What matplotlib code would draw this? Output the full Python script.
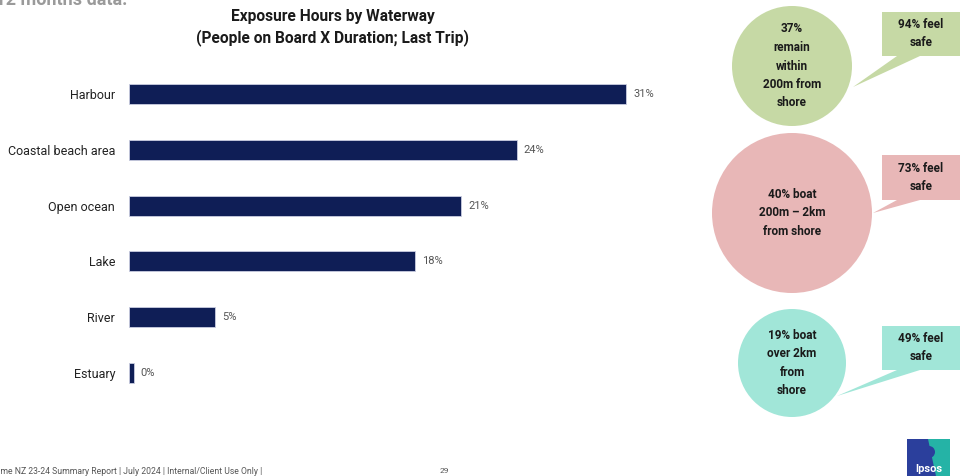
import matplotlib
matplotlib.use("Agg")
import matplotlib.pyplot as plt
from matplotlib.patches import Circle, Polygon, Rectangle

plt.rcParams['font.family'] = ['Roboto', 'DejaVu Sans']

# bar data (share of exposure hours, %)
WATERWAYS = ['Harbour', 'Coastal beach area', 'Open ocean', 'Lake', 'River', 'Estuary']
SHARE = [31.3, 24.4, 20.9, 18.0, 5.4, 0.3]

# distance-from-shore bubbles and "feel safe" callouts
ZONE_TEXT = ['37%\nremain\nwithin\n200m from\nshore',
             '40% boat\n200m \u2013 2km\nfrom shore',
             '19% boat\nover 2km\nfrom\nshore']
SAFE_TEXT = ['94% feel\nsafe', '73% feel\nsafe', '49% feel\nsafe']
ZONE_COLORS = ['#c6d9a5', '#e8b7b7', '#a1e6d8']

NAVY = '#0f1e56'

fig = plt.figure(figsize=(9.6, 4.76), dpi=100)
W, H = 960., 476.

# bar axes, placed in pixel terms
x0, x1 = 129, 685
y_top, y_bot = 66, 401
ax = fig.add_axes([x0 / W, 1 - y_bot / H, (x1 - x0) / W, (y_bot - y_top) / H])
ypos = list(range(len(WATERWAYS)))
ax.barh(ypos, SHARE, height=0.36, color=NAVY, edgecolor='#c9cde0', linewidth=0.6)
ax.set_xlim(0, 35)
ax.set_ylim(len(WATERWAYS) - 0.5, -0.5)
ax.set_yticks(ypos)
ax.set_yticklabels(WATERWAYS, fontsize=9, color='#222222')
ax.tick_params(axis='y', length=0, pad=10)
ax.set_xticks([])
for s in ax.spines.values():
    s.set_visible(False)
for y, v in zip(ypos, SHARE):
    ax.annotate('%d%%' % round(v), (v, y), xytext=(5, 0), textcoords='offset points',
                va='center', ha='left', fontsize=8, color='#555555')

# decoration layer in pixel coordinates
deco = fig.add_axes([0, 0, 1, 1], zorder=-1)
deco.set_xlim(0, W)
deco.set_ylim(H, 0)
deco.axis('off')

deco.text(333, 17, 'Exposure Hours by Waterway', ha='center', va='center',
          fontsize=11.2, fontweight='bold', color='#1a1a1a')
deco.text(333, 38, '(People on Board X Duration; Last Trip)', ha='center', va='center',
          fontsize=11.2, fontweight='bold', color='#1a1a1a')

deco.text(127, 0, 'last 12 months data.', ha='right', va='center',
          fontsize=13, fontweight='bold', color='#9a9a9a')

circles = [(792, 66, 60), (792, 213, 80), (792, 363, 54)]
boxes = [(12, 56, (853, 87)), (155, 200, (873, 213)), (326, 370, (837, 396))]
for (cx, cy, r), (bt, bb, tip), c, zt, st in zip(circles, boxes, ZONE_COLORS,
                                                 ZONE_TEXT, SAFE_TEXT):
    deco.add_patch(Circle((cx, cy), r, facecolor=c, edgecolor='none'))
    pts = [(882, bt), (965, bt), (965, bb), (920, bb), tip, (897, bb), (882, bb)]
    deco.add_patch(Polygon(pts, closed=True, facecolor=c, edgecolor='none'))
    deco.text(cx, cy, zt, ha='center', va='center', fontsize=8.5,
              fontweight='bold', color='#1a1a1a', linespacing=1.55)
    deco.text(921, (bt + bb) / 2, st, ha='center', va='center', fontsize=8.5,
              fontweight='bold', color='#1a1a1a', linespacing=1.5)

# footer
deco.text(262, 471, 'Maritime NZ 23-24 Summary Report | July 2024 | Internal/Client Use Only |',
          ha='right', va='center', fontsize=6.2, color='#555555')
deco.text(444, 471, '29', ha='center', va='center', fontsize=6, color='#555555')

# logo
deco.add_patch(Rectangle((907, 439), 43, 40, facecolor='#2b3f9c', edgecolor='none'))
deco.add_patch(Polygon([(928, 439), (950, 439), (950, 476), (936, 476)],
                       closed=True, facecolor='#25b3a6', edgecolor='none'))
deco.add_patch(Circle((929, 452), 6, facecolor='#2b3f9c', edgecolor='none'))
deco.text(928.5, 469, 'Ipsos', ha='center', va='center', fontsize=8,
          fontweight='bold', color='white')

fig.savefig('out.png', dpi=100)
